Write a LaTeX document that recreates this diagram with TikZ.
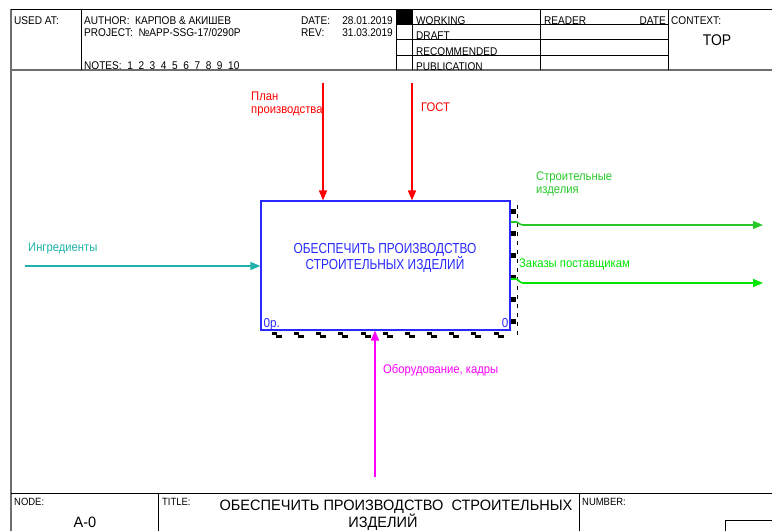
\documentclass[tikz,border=0pt]{standalone}
\usepackage{fontspec}
\setmainfont{Liberation Sans}[FakeStretch=0.9]
\newfontfamily\boxfont{Liberation Sans}[FakeStretch=0.82]
\newfontfamily\titlefont{Liberation Sans}[FakeStretch=0.97]
\usetikzlibrary{arrows.meta}
\definecolor{tealc}{RGB}{32,178,170}
\definecolor{gout}{RGB}{40,200,40}
\definecolor{gord}{RGB}{0,230,0}
\definecolor{boxblue}{RGB}{40,40,255}
\definecolor{mechmag}{RGB}{255,0,255}
\definecolor{ctrlred}{RGB}{255,0,0}
\definecolor{framegray}{RGB}{110,110,110}
\tikzset{
  hdr/.style={inner sep=0pt, font=\fontsize{11.2}{13}\selectfont, text=black},
  lbl/.style={inner sep=0pt, font=\fontsize{12.5}{15}\selectfont, align=left},
  flow/.style={line width=1.6pt, -{Triangle[length=10pt,width=8pt]}},
  thin frame/.style={line width=0.8pt, black},
  procbox/.style={draw=boxblue, line width=1.2pt, minimum width=249pt, minimum height=129pt, inner sep=0pt}
}
\begin{document}
\begin{tikzpicture}[x=1pt,y=-1pt]
\useasboundingbox (0,0) rectangle (772,531);
% ---------- frame ----------
\draw[framegray, line width=1.5pt] (11,9) -- (11,531);
\draw[thin frame] (11,9) -- (772,9);
\draw[framegray, line width=2pt] (11,70) -- (772,70);
\draw[thin frame] (11,493) -- (772,493);
\foreach \x in {81,396,412,540,668} \draw[thin frame] (\x,9) -- (\x,70);
\foreach \y in {24,39,55} \draw[thin frame] (396,\y) -- (668,\y);
\fill[black] (396,9) rectangle (412,24);
\draw[thin frame] (158,493) -- (158,531);
\draw[thin frame] (579,493) -- (579,531);
\draw[thin frame] (725,531) -- (725,520) -- (772,520);
% ---------- header text ----------
\node[hdr, anchor=base west] (usedat) at (14,24) {USED AT:};
\node[hdr, anchor=base west] (author) at (84,24) {AUTHOR:\ \ КАРПОВ \& АКИШЕВ};
\node[hdr, anchor=base west] (project) at (84,36) {PROJECT:\ \ №APP-SSG-17/0290P};
\node[hdr, anchor=base west] (notes) at (84,69) {NOTES:\ \ 1\ \ 2\ \ 3\ \ 4\ \ 5\ \ 6\ \ 7\ \ 8\ \ 9\ \ 10};
\node[hdr, anchor=base west] (date) at (301,24) {DATE:};
\node[hdr, anchor=base east] (dateval) at (393,24) {28.01.2019};
\node[hdr, anchor=base west] (rev) at (301,36) {REV:};
\node[hdr, anchor=base east] (revval) at (393,36) {31.03.2019};
\node[hdr, anchor=base west] (working) at (416,24) {WORKING};
\node[hdr, anchor=base west] (draft) at (416,39) {DRAFT};
\node[hdr, anchor=base west] (recom) at (416,55) {RECOMMENDED};
\node[hdr, anchor=base west] (publ) at (416,70) {PUBLICATION};
\node[hdr, anchor=base west] (reader) at (544,24) {READER};
\node[hdr, anchor=base east] (rdate) at (666,24) {DATE};
\node[hdr, anchor=base west] (context) at (671,24) {CONTEXT:};
\node[hdr, anchor=base, font=\fontsize{15.5}{18}\selectfont] (top) at (717,45) {TOP};
% ---------- footer text ----------
\node[hdr, anchor=base west, font=\fontsize{10.5}{12}\selectfont] (nodelbl) at (14,505) {NODE:};
\node[hdr, anchor=base, font=\titlefont\fontsize{15}{17}\selectfont] (nodeval) at (85,527) {A-0};
\node[hdr, anchor=base west, font=\fontsize{10.5}{12}\selectfont] (titlelbl) at (162,505) {TITLE:};
\node[hdr, anchor=base, font=\titlefont\fontsize{15}{17}\selectfont] (title1) at (396,510) {ОБЕСПЕЧИТЬ ПРОИЗВОДСТВО\ \ СТРОИТЕЛЬНЫХ};
\node[hdr, anchor=base, font=\titlefont\fontsize{15}{17}\selectfont] (title2) at (383,527) {ИЗДЕЛИЙ};
\node[hdr, anchor=base west, font=\fontsize{10.5}{12}\selectfont] (numlbl) at (582,505) {NUMBER:};
% ---------- shadow of the box ----------
\foreach \x in {272,294,316,338,361,383,405,427,449,471,494} {
  \fill[black] (\x,332) rectangle ++(5,2.5);
  \fill[black] (\x+4,335) rectangle ++(6,2.5);
}
\foreach \y in {209,231,253,275,297,319} \fill[black] (511,\y) rectangle ++(5,5);
\draw[black, line width=0.7pt, dash pattern=on 4pt off 5pt] (517,205) -- (517,336);
% ---------- activity box ----------
\node[procbox] (box) at (385.5,265.5) {};
\node[inner sep=0pt, font=\boxfont\fontsize{14.5}{16}\selectfont, text=boxblue, align=center] (boxtxt) at (385,258) {ОБЕСПЕЧИТЬ ПРОИЗВОДСТВО\\СТРОИТЕЛЬНЫХ ИЗДЕЛИЙ};
\node[inner sep=0pt, anchor=base west, font=\fontsize{13}{14}\selectfont, text=boxblue] (boxnum) at ([xshift=3pt,yshift=3pt]box.south west) {0р.};
\node[inner sep=0pt, anchor=base east, font=\fontsize{13}{14}\selectfont, text=boxblue] (boxid) at ([xshift=-2pt,yshift=3pt]box.south east) {0};
% ---------- controls ----------
\coordinate (c1) at (323,83);
\coordinate (c2) at (412,83);
\draw[flow, ctrlred] (c1) -- (c1 |- box.north);
\draw[flow, ctrlred] (c2) -- (c2 |- box.north);
\node[lbl, ctrlred, anchor=base west] (c1lbl) at (251,113) {План\\[-2pt]производства};
\node[lbl, ctrlred, anchor=base west] (c2lbl) at (421,111) {ГОСТ};
% ---------- input ----------
\coordinate (i1) at (25,266);
\draw[flow, tealc] (i1) -- (i1 -| box.west);
\node[lbl, tealc, anchor=base west] (i1lbl) at (28,251) {Ингредиенты};
% ---------- mechanism ----------
\coordinate (m1) at (375,477);
\draw[flow, mechmag] (m1) -- (m1 |- box.south);
\node[lbl, mechmag, anchor=base west] (m1lbl) at (383,373) {Оборудование, кадры};
% ---------- outputs ----------
\coordinate (o1) at (763,225);
\coordinate (o2) at (763,283);
\draw[flow, gout] ([yshift=3pt]box.east |- o1) -- (515,222) .. controls (518,221) and (519,225) .. (523,225) -- (o1);
\draw[flow, gord] ([yshift=4pt]box.east |- o2) -- (515,279) .. controls (518,278) and (519,283) .. (523,283) -- (o2);
\node[lbl, gout, anchor=base west] (o1lbl) at (536,193) {Строительные\\[-2pt]изделия};
\node[lbl, gord, anchor=base west] (o2lbl) at (519,267) {Заказы поставщикам};
\end{tikzpicture}
\end{document}
